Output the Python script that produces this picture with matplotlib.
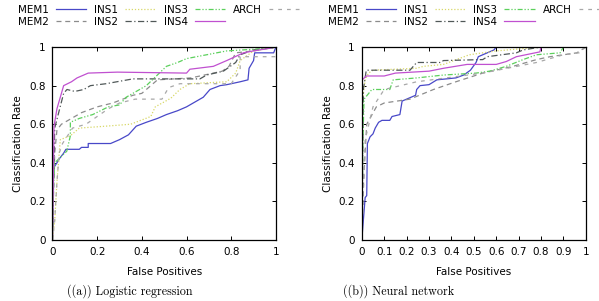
import matplotlib
matplotlib.use("Agg")
from matplotlib import pyplot as plt

# series order matches legend (column-major fill, 4 columns)
names = ['MEM1', 'MEM2', 'INS1', 'INS2', 'INS3', 'INS4', 'ARCH']
colors = ['#4848c8', '#8c8c8c', '#d8d868', '#505858', '#5cd05c', '#c050d0', '#a8a8a8']
styles = ['-', (0, (4, 3)), (0, (1, 1.5)), (0, (5, 2, 1, 2)), (0, (4, 1.5, 1, 1.5, 1, 1.5)), '-', (0, (3, 4))]

# (a) logistic regression, (x, y) points
lr_mem1 = [(0, 0), (0.003, 0.37), (0.02, 0.40), (0.03, 0.42), (0.05, 0.45), (0.06, 0.47), (0.12, 0.47),
           (0.13, 0.48), (0.16, 0.48), (0.16, 0.50), (0.26, 0.50), (0.30, 0.52), (0.34, 0.545), (0.375, 0.59),
           (0.42, 0.61), (0.47, 0.63), (0.51, 0.65), (0.56, 0.67), (0.60, 0.69), (0.645, 0.72), (0.675, 0.74),
           (0.705, 0.78), (0.75, 0.80), (0.78, 0.805), (0.84, 0.82), (0.875, 0.83), (0.88, 0.89), (0.90, 0.93),
           (0.905, 0.97), (0.99, 0.97), (1, 1)]
lr_mem2 = [(0, 0), (0.005, 0.25), (0.01, 0.45), (0.02, 0.57), (0.04, 0.60), (0.10, 0.64), (0.13, 0.66),
           (0.20, 0.69), (0.27, 0.71), (0.36, 0.75), (0.40, 0.76), (0.44, 0.80), (0.47, 0.83), (0.62, 0.84),
           (0.70, 0.86), (0.76, 0.875), (0.79, 0.90), (0.82, 0.97), (0.90, 0.98), (1, 1)]
lr_ins1 = [(0, 0), (0.01, 0.10), (0.02, 0.30), (0.035, 0.52), (0.08, 0.54), (0.12, 0.58), (0.24, 0.59),
           (0.35, 0.60), (0.44, 0.64), (0.46, 0.69), (0.53, 0.735), (0.57, 0.78), (0.615, 0.81), (0.78, 0.82),
           (0.82, 0.865), (0.84, 0.93), (0.90, 0.98), (1, 1)]
lr_ins2 = [(0, 0), (0.005, 0.30), (0.01, 0.58), (0.03, 0.67), (0.05, 0.76), (0.065, 0.78), (0.10, 0.77),
           (0.14, 0.78), (0.17, 0.80), (0.24, 0.81), (0.36, 0.835), (0.66, 0.835), (0.69, 0.855), (0.765, 0.875),
           (0.82, 0.92), (0.84, 0.96), (0.90, 0.985), (1, 1)]
lr_ins3 = [(0, 0), (0.005, 0.30), (0.01, 0.40), (0.064, 0.46), (0.08, 0.54), (0.08, 0.61), (0.12, 0.63),
           (0.18, 0.65), (0.25, 0.69), (0.30, 0.70), (0.33, 0.74), (0.42, 0.80), (0.51, 0.90), (0.56, 0.92),
           (0.60, 0.94), (0.735, 0.97), (0.78, 0.98), (0.99, 0.995), (1, 1)]
lr_ins4 = [(0, 0), (0.007, 0.59), (0.02, 0.68), (0.035, 0.74), (0.05, 0.80), (0.085, 0.82), (0.11, 0.84),
           (0.16, 0.865), (0.29, 0.87), (0.60, 0.865), (0.615, 0.885), (0.72, 0.90), (0.78, 0.93), (0.855, 0.97),
           (0.90, 0.98), (0.98, 0.995), (1, 1)]
lr_arch = [(0, 0), (0.01, 0.10), (0.02, 0.30), (0.03, 0.45), (0.045, 0.50), (0.09, 0.58), (0.15, 0.60),
           (0.20, 0.64), (0.25, 0.68), (0.30, 0.71), (0.37, 0.73), (0.49, 0.73), (0.52, 0.79), (0.57, 0.81),
           (0.80, 0.81), (0.84, 0.88), (0.84, 0.95), (1, 0.95)]

# (b) neural network
nn_mem1 = [(0, 0), (0.015, 0.22), (0.022, 0.23), (0.025, 0.50), (0.037, 0.535), (0.05, 0.55), (0.06, 0.58),
           (0.075, 0.61), (0.09, 0.62), (0.125, 0.62), (0.135, 0.64), (0.17, 0.65), (0.18, 0.72), (0.21, 0.735),
           (0.24, 0.75), (0.245, 0.78), (0.26, 0.80), (0.30, 0.805), (0.335, 0.83), (0.42, 0.84), (0.455, 0.855),
           (0.485, 0.88), (0.51, 0.92), (0.52, 0.95), (0.56, 0.97), (0.59, 0.985), (0.60, 1.0), (1, 1)]
nn_mem2 = [(0, 0), (0.008, 0.31), (0.022, 0.60), (0.065, 0.69), (0.10, 0.71), (0.215, 0.73), (0.32, 0.78),
           (0.42, 0.82), (0.54, 0.865), (0.675, 0.90), (0.78, 0.935), (0.84, 0.95), (0.96, 0.97), (1, 1)]
nn_ins1 = [(0, 0), (0.004, 0.73), (0.015, 0.83), (0.03, 0.865), (0.05, 0.88), (0.245, 0.89), (0.275, 0.90),
           (0.365, 0.91), (0.48, 0.96), (0.60, 0.98), (0.80, 1.0), (1, 1)]
nn_ins2 = [(0, 0), (0.007, 0.78), (0.02, 0.88), (0.215, 0.88), (0.245, 0.92), (0.35, 0.92), (0.365, 0.93),
           (0.54, 0.935), (0.56, 0.95), (0.69, 0.97), (0.72, 0.985), (0.80, 1.0), (1, 1)]
nn_ins3 = [(0, 0), (0.005, 0.52), (0.01, 0.73), (0.045, 0.78), (0.125, 0.78), (0.14, 0.83), (0.245, 0.84),
           (0.365, 0.855), (0.51, 0.865), (0.57, 0.875), (0.645, 0.90), (0.72, 0.935), (0.78, 0.96),
           (0.885, 0.97), (0.90, 1.0), (1, 1)]
nn_ins4 = [(0, 0), (0.002, 0.83), (0.02, 0.85), (0.10, 0.85), (0.15, 0.865), (0.30, 0.875), (0.365, 0.89),
           (0.47, 0.91), (0.60, 0.91), (0.645, 0.925), (0.69, 0.95), (0.795, 0.975), (0.80, 1.0), (1, 1)]
nn_arch = [(0, 0), (0.015, 0.52), (0.05, 0.69), (0.10, 0.78), (0.245, 0.82), (0.54, 0.865), (0.78, 0.92),
           (0.90, 0.96), (0.97, 0.97), (1, 1)]

lr_series = [lr_mem1, lr_mem2, lr_ins1, lr_ins2, lr_ins3, lr_ins4, lr_arch]
nn_series = [nn_mem1, nn_mem2, nn_ins1, nn_ins2, nn_ins3, nn_ins4, nn_arch]

lr_xticks = [0, 0.2, 0.4, 0.6, 0.8, 1]
nn_xticks = [0, 0.1, 0.2, 0.3, 0.4, 0.5, 0.6, 0.7, 0.8, 0.9, 1]
yticks = [0, 0.2, 0.4, 0.6, 0.8, 1]
captions = ['((a)) Logistic regression', '((b)) Neural network']

FS = 7.5


def fmt(v):
    return '%g' % v


def drawPanel(ax, series, xticks):
    for pts, name, col, ls in zip(series, names, colors, styles):
        xs = [p[0] for p in pts]
        ys = [p[1] for p in pts]
        ax.plot(xs, ys, color=col, linestyle=ls, linewidth=0.9, label=name)

    ax.set_xlim(0, 1)
    ax.set_ylim(0, 1)
    ax.set_xticks(xticks)
    ax.set_xticklabels([fmt(t) for t in xticks])
    ax.set_yticks(yticks)
    ax.set_yticklabels([fmt(t) for t in yticks])
    ax.tick_params(direction='in', top=True, right=True, length=3, width=0.7,
                   labelsize=FS, pad=5)
    for sp in ax.spines.values():
        sp.set_linewidth(0.9)

    ax.set_xlabel('False Positives', fontsize=FS, labelpad=7)
    ax.set_ylabel('Classification Rate', fontsize=FS, labelpad=4)

    ax.legend(loc='lower center', bbox_to_anchor=(0.475, 1.105), ncol=4, frameon=False,
              fontsize=FS, markerfirst=False, handlelength=2.9, handletextpad=0.7,
              columnspacing=0.75, labelspacing=0.2, borderaxespad=0, borderpad=0)


fig = plt.figure(figsize=(5.99, 3.01), dpi=100)
ax1 = fig.add_axes([0.0876, 0.2027, 0.373, 0.641])
ax2 = fig.add_axes([0.604, 0.2027, 0.374, 0.641])

drawPanel(ax1, lr_series, lr_xticks)
drawPanel(ax2, nn_series, nn_xticks)

# sub-captions sit centred in each half of the page, not under the axes
fig.text(0.216, 0.033, captions[0], ha='center', va='center', fontsize=8.7, family='cmr10')
fig.text(0.666, 0.033, captions[1], ha='center', va='center', fontsize=8.7, family='cmr10')

fig.savefig('out.png', dpi=100)
